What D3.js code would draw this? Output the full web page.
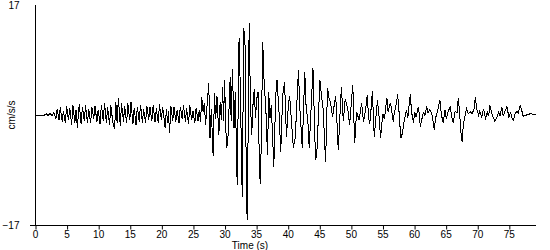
<!DOCTYPE html>
<html>
<head>
<meta charset="utf-8">
<script src="https://cdn.jsdelivr.net/npm/d3@7"></script>
<style>
  body { margin: 0; background: #fff; }
  svg { display: block; }
  text { font-family: "Liberation Sans", Arial, sans-serif; font-size: 10px; fill: #000; }
</style>
</head>
<body>
<svg width="550" height="250"></svg>
<script>
// [time (s), acceleration (cm/s/s)], peak by peak
const preEvent = [
  [0, 0], [1.5, 0], [1.8, 0.2], [2.1, -0.1], [2.4, 0.3], [2.7, -0.2], [3.0, 0.4], [3.3, -0.6],
  [3.5, 0.9], [3.8, -0.8], [4.0, 1.2], [4.3, -1.0], [4.5, 0.6], [4.8, -1.3], [5.0, 1.4], [5.3, -0.8],
  [5.5, 1.1], [5.8, -1.5], [6.0, 1.6], [6.3, -1.2], [6.5, 0.8], [6.7, -2.0], [7.0, 1.7], [7.3, -1.4],
  [7.5, 1.3], [7.8, -0.9], [8.0, 1.5], [8.3, -1.2], [8.5, 0.9], [8.8, -1.3], [9.0, 1.2], [9.3, -0.6],
  [9.5, 1.4], [9.8, -1.1], [10.0, 0.8], [10.3, -1.4], [10.5, 1.6], [10.8, -0.9], [11.0, 1.9], [11.3, -1.3],
  [11.5, 1.2], [11.8, -1.6], [12.0, 1.5], [12.3, -1.0], [12.6, -2.2], [12.8, 2.0], [13.0, -1.2], [13.2, 2.6],
  [13.5, -1.7], [13.7, 1.8], [14.0, -1.0], [14.2, 1.4], [14.5, -1.3], [14.7, 1.8], [15.0, -0.8], [15.2, 2.0],
  [15.5, -1.4], [15.7, 1.1], [16.0, -1.6], [16.2, 1.3], [16.5, -1.0], [16.7, 1.6], [17.0, -1.2], [17.2, 0.9],
  [17.5, -1.3], [17.7, 1.4], [18.0, -0.7], [18.2, 1.2], [18.5, -0.9], [18.7, 1.5], [19.0, -1.1], [19.2, 1.0],
  [19.5, -1.2], [19.7, 1.7], [20.0, -0.8], [20.2, 1.3], [20.6, -2.0], [20.8, 0.9], [21.0, -1.2], [21.1, 0.6],
  [21.3, -2.8], [21.5, 1.4], [21.8, -0.9], [22.0, 1.2], [22.3, -1.0], [22.5, 0.8], [22.8, -1.2], [23.0, 1.3],
  [23.3, -0.6], [23.5, 1.6], [23.8, -1.0], [24.0, 1.0], [24.3, -1.4], [24.5, 1.5], [24.8, -0.8], [25.0, 0.6],
  [25.3, -1.2], [25.5, 1.1], [25.8, -0.9]
];

const strongMotion = [
  [26.0, 0.8], [26.2, -1.0], [26.4, 2.8], [26.6, 0.5], [26.8, 1.8], [27.0, -1.5], [27.2, 1.0], [27.5, 4.9],
  [27.7, -3.6], [27.9, 1.0], [28.2, -6.4], [28.4, 3.4], [28.6, -0.6], [28.8, 3.0], [29.1, -3.1], [29.3, 2.0],
  [29.5, -0.8], [29.7, 4.3], [29.85, -1.0], [30.0, 5.4], [30.3, -5.1], [30.5, -4.5], [30.9, 5.9], [31.05, -1.0],
  [31.25, 7.1], [31.5, -2.0], [31.7, 3.5], [32.0, -10.8], [32.3, 11.9], [32.5, 4.0], [32.8, -12.7], [33.05, 13.4],
  [33.3, 10.0], [33.45, -12.7], [33.6, -16.2], [33.9, 14.2], [34.1, 2.0], [34.3, -3.1], [34.5, 1.5], [34.7, 4.0],
  [34.9, -0.5], [35.1, 2.5], [35.3, 3.5], [35.55, -9.3], [35.7, -10.7], [36.05, 11.3], [36.3, 4.0], [36.5, 2.0],
  [36.8, -6.2], [37.0, 3.5], [37.2, -0.5], [37.4, 1.5], [37.8, -8.0], [38.1, 3.0], [38.3, 5.4], [38.6, 1.0],
  [38.9, -5.7], [39.2, 3.0], [39.5, 5.1], [39.8, -3.4], [40.1, 1.5], [40.3, 3.0], [40.6, -1.0], [40.9, -5.1],
  [41.2, -3.4], [41.7, 7.0], [41.9, 1.5], [42.3, -5.1], [42.7, 6.7], [42.9, 1.5], [43.2, -1.2], [43.4, -5.1],
  [44.0, 7.2], [44.4, -7.0], [44.6, -6.2], [45.1, 5.4], [45.4, 2.5], [45.6, 1.0], [46.0, -7.3], [46.3, 4.2],
  [46.5, 2.8], [46.8, 1.8], [47.1, -0.3], [47.4, 1.8], [47.6, 3.0], [48.0, -5.4], [48.5, 4.4], [48.8, -1.0],
  [49.1, 2.5], [49.5, 1.0], [49.8, -1.5], [50.3, 4.7], [50.6, -4.4], [50.9, 0.5], [51.3, -0.8], [51.7, 1.8],
  [52.0, -1.0], [52.2, 0.0]
];

const coda = [
  [52.4, 1.5], [52.6, 3.1], [52.8, -0.5], [53.0, -1.3], [53.2, 1.0], [53.4, 3.7], [53.7, -3.4], [53.9, -1.0],
  [54.2, 2.3], [54.4, 0.5], [54.7, -3.6], [54.9, -1.2], [55.1, 0.2], [55.3, -0.6], [55.7, 2.6], [55.9, 0.4],
  [56.1, 1.5], [56.3, 1.8], [56.7, -1.0], [56.9, 0.5], [57.1, 1.2], [57.4, 3.2], [57.6, 0.8], [57.9, -3.6],
  [58.1, -3.0], [58.3, -1.8], [58.5, -0.6], [58.8, 0.8], [59.0, -0.5], [59.4, 3.2], [59.6, 0.5], [59.9, -1.2],
  [60.1, 0.4], [60.3, -0.3], [60.7, 1.3], [61.0, -1.8], [61.2, -0.8], [61.5, 0.5], [61.7, -0.2], [62.0, 1.3],
  [62.2, 0.3], [62.5, 0.8], [62.8, 0.3], [63.2, -2.3], [63.4, -0.5], [63.7, 0.6], [64.1, 2.3], [64.3, 0.2],
  [64.6, -1.2], [64.9, 0.8], [65.1, -0.6], [65.4, 0.5], [65.7, 1.3], [66.0, -0.5], [66.2, -1.2], [66.5, 0.6],
  [66.8, 0.3], [67.0, 2.6], [67.2, 0.5], [67.4, -2.5], [67.6, -4.1], [67.8, -1.5], [68.1, 0], [68.3, 1.0],
  [68.6, 0.2], [68.9, 0.5], [69.2, 0.2], [69.5, 1.0], [69.7, 2.7], [69.9, 1.0], [70.2, 0], [70.4, 0.6],
  [70.7, -0.3], [71.0, 0.9], [71.3, -0.5], [71.6, 0.4], [71.8, -0.2], [72.0, 1.5], [72.3, 0.2], [72.5, -0.3],
  [72.8, -1.0], [73.1, -0.4], [73.4, 0.5], [73.6, -0.2], [73.9, 1.2], [74.1, -0.2], [74.4, 0.6], [74.7, 1.3],
  [75.0, -0.3], [75.3, 0.4], [75.5, -0.5], [75.7, -0.8], [76.0, 0.2], [76.3, 0.6], [76.5, 0.3], [76.8, 1.5],
  [77.1, 0.5], [77.3, -0.3], [77.6, 0], [77.8, 0], [78.1, 0.1], [78.4, 0.2], [79.3, 0]
];

const timeTicks = [0, 5, 10, 15, 20, 25, 30, 35, 40, 45, 50, 55, 60, 65, 70, 75];
const accelLimits = [-17, 17];
const xLabel = "Time (s)";
const yLabel = "cm/s/s";

document.addEventListener("DOMContentLoaded", () => {
  drawRecord(preEvent.concat(strongMotion, coda));
});

const drawRecord = (record) => {
  const svg = d3.select("svg");

  const xScale = d3
    .scaleLinear()
    .domain([0, d3.max(record, (d) => d[0])])
    .range([35, 536]);

  const yScale = d3.scaleLinear().domain(accelLimits).range([225, 5]);

  // left axis: just the line and the two limit labels
  const yAxis = d3
    .axisLeft(yScale)
    .tickValues(accelLimits)
    .tickSize(0)
    .tickPadding(16);

  const gy = svg.append("g").attr("transform", "translate(35.5,0)").call(yAxis);
  gy.select(".domain").remove();
  gy.append("line")
    .attr("y1", yScale(17))
    .attr("y2", yScale(-17))
    .attr("stroke", "#000");

  // bottom axis, its line runs a bit past the y axis on the left
  const xAxis = d3
    .axisBottom(xScale)
    .tickValues(timeTicks)
    .tickFormat(d3.format("d"))
    .tickSizeInner(4)
    .tickSizeOuter(0)
    .tickPadding(1);

  const gx = svg.append("g").attr("transform", "translate(0,225.5)").call(xAxis);
  gx.select(".domain").remove();
  gx.append("line")
    .attr("x1", xScale(0) - 5)
    .attr("x2", xScale.range()[1])
    .attr("stroke", "#000");
  gx.selectAll(".tick line").attr("transform", "translate(0.5,0)");

  svg.selectAll(".tick text")
    .attr("font-family", "'Liberation Sans', Arial, sans-serif")
    .attr("font-size", 10)
    .attr("fill", "#000");

  svg.append("text")
    .attr("x", 250)
    .attr("y", 249)
    .attr("text-anchor", "middle")
    .text(xLabel);

  svg.append("text")
    .attr("transform", "translate(15,115) rotate(-90)")
    .attr("text-anchor", "middle")
    .text(yLabel);

  const line = d3
    .line()
    .x((d) => xScale(d[0]))
    .y((d) => yScale(d[1]));

  svg.append("path")
    .datum(record)
    .attr("d", line)
    .attr("fill", "none")
    .attr("stroke", "#000")
    .attr("stroke-width", 1)
    .attr("shape-rendering", "crispEdges");
};
</script>
</body>
</html>
